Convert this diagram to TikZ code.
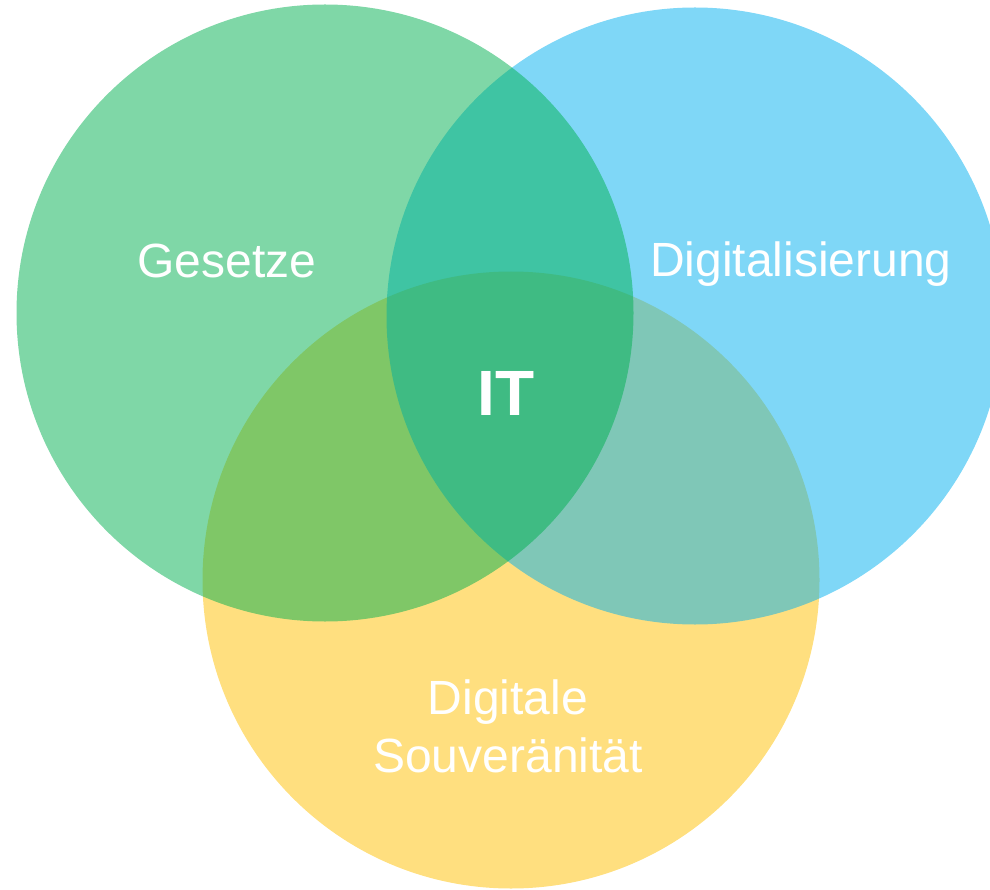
\documentclass[tikz,border=0pt]{standalone}
\usepackage{fontspec}
\setmainfont{Liberation Sans}

\definecolor{gruen}{HTML}{00B050}
\definecolor{blau}{HTML}{00B0F0}
\definecolor{gelb}{HTML}{FFC000}

\tikzset{
  kreis/.style={circle, minimum size=617pt, inner sep=0pt, fill opacity=0.5, text opacity=1},
  beschriftung/.style={text=white, anchor=base, inner sep=0pt, font=\fontsize{48}{58}\selectfont},
}

\begin{document}
\begin{tikzpicture}[x=1pt, y=-1pt]
  \useasboundingbox (0,0) rectangle (990,890);

  % Circles
  \node[kreis, fill=gelb]  (souv) at (511, 580) {};
  \node[kreis, fill=blau]  (digi) at (695, 316) {};
  \node[kreis, fill=gruen] (ges)  at (325, 313) {};

  % Labels
  \node[beschriftung] (lges)  at (227, 278) {Gesetze};
  \node[beschriftung] (ldigi) at (801, 277) {Digitalisierung};
  \node[beschriftung] (lsouv1) at (508, 714) {Digitale};
  \node[beschriftung] (lsouv2) at (508, 772) {Souveränität};
  \node[beschriftung, font=\fontsize{64}{70}\selectfont\bfseries] (lit) at (506, 415) {IT};
\end{tikzpicture}
\end{document}
